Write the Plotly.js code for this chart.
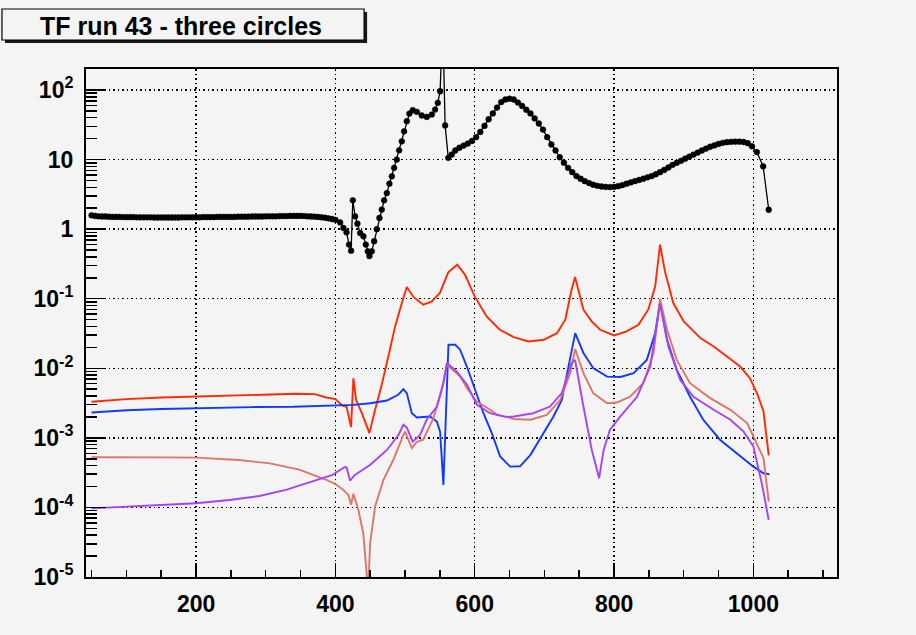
<!DOCTYPE html>
<html>
<head>
<meta charset="utf-8">
<script src="https://cdn.plot.ly/plotly-3.0.1.min.js"></script>
<style>
html,body{margin:0;padding:0;background:#f4f4f4;}
#chart{width:916px;height:635px;}
</style>
</head>
<body>
<div id="chart"></div>
<script>
// ---- data ----
const titleText = "TF run 43 - three circles";

const blackX = [50,55,60,65,70,75,80,85,90,95,100,105,110,115,120,125,130,135,140,145,150,155,160,165,170,175,180,185,190,195,200,205,210,215,220,225,230,235,240,245,250,255,260,265,270,275,280,285,290,295,300,305,310,315,320,325,330,335,340,345,350,355,360,365,370,375,380,385,390,395,400,
  406.8,411.5,416,419.6,422.5,425,428.3,431.6,435.5,440.2,443.6,446.5,448.8,452.2,455.6,459.4,463.2,466.6,469.9,473.8,477.5,481,484.3,488.1,491.5,495.3,498.6,502.5,506.2,511.1,516.9,524,531.2,538.4,543.1,547,550.3,554,557.5,
  562,567,572,578,584,590,596,602,608,614,620,626,632,638,644,650,656,662,668,674,680,686,692,698,704,710,716,722,728,734,740,746,752,758,764,770,776,782,788,794,800,806,812,818,824,830,836,842,848,854,860,866,872,878,884,890,896,902,908,914,920,926,932,938,944,950,956,962,968,974,980,986,992,998,1005,1014,1022];
const blackY = [1.58,1.55,1.53,1.52,1.52,1.51,1.5,1.5,1.5,1.49,1.49,1.49,1.49,1.48,1.48,1.48,1.48,1.48,1.47,1.47,1.47,1.47,1.47,1.47,1.47,1.47,1.48,1.48,1.48,1.48,1.48,1.48,1.49,1.49,1.49,1.49,1.5,1.5,1.5,1.5,1.5,1.5,1.51,1.51,1.51,1.51,1.52,1.52,1.52,1.52,1.53,1.53,1.53,1.53,1.54,1.54,1.54,1.55,1.55,1.55,1.55,1.54,1.53,1.52,1.51,1.5,1.48,1.46,1.43,1.4,1.36,
  1.25,1.04,0.90,0.60,0.49,2.6,1.53,1.2,0.88,0.79,0.60,0.48,0.41,0.48,0.67,1.0,1.45,1.91,2.6,3.3,4.5,5.75,7.6,10,13.6,18.3,25.5,35.6,45.9,51.2,48.5,43,41.1,44.4,52.4,65.5,96,1000,31,
  10.6,11.8,13.5,14.8,15.9,17,18.5,21,25,30.5,38,46,56,67,73,75,73,66,59,52,46,39,33,27,21,16.5,13.5,10.8,9,7.6,6.6,5.8,5.3,4.9,4.6,4.35,4.2,4.1,4.05,4.03,4.05,4.15,4.3,4.5,4.7,4.9,5.1,5.3,5.55,5.8,6.15,6.6,7.1,7.7,8.4,9.0,9.6,10.3,11,11.8,12.6,13.5,14.4,15.3,16,16.8,17.4,17.8,18.0,18.1,18.1,17.9,17.2,15.5,12.8,8.0,1.9];

const redX = [50,70,100,150,200,250,300,343,370,387,400,410,416,422.5,425.8,429.7,437.9,448.8,457,466,473.8,485.7,495.3,502.5,512,526,538,550,562,575,586,600,617,636,656,677,699,718,730,739,744,756,768,780,800,818,835,849,859,866,873,885,900,924,943,962,981,995,1006,1014.5,1022];
const redY = [3.3e-3,3.45e-3,3.6e-3,3.8e-3,3.93e-3,4.1e-3,4.25e-3,4.3e-3,4.25e-3,3.8e-3,3.6e-3,2.9e-3,2.8e-3,1.43e-3,7.2e-3,3.5e-3,2.26e-3,1.17e-3,2.53e-3,5.5e-3,0.0119,0.04,0.0867,0.147,0.106,0.082,0.091,0.121,0.239,0.308,0.221,0.108,0.0556,0.0358,0.0281,0.0243,0.0257,0.032,0.0499,0.135,0.205,0.0695,0.047,0.0358,0.0297,0.0339,0.0423,0.0695,0.15,0.6,0.247,0.0867,0.047,0.0272,0.0206,0.0148,0.0106,7.2e-3,4.2e-3,2.39e-3,5.6e-4];

const blueX = [50,100,150,200,281,340,396,426,450,474,490,497.6,502.5,509.7,517,536,545.6,550.3,555,562.3,572,579,588.7,600.6,612.5,624.5,636.5,650.8,665,680,698.6,713,725,734.5,744.2,756,770,790,809,828,847,859,866,876,890,909,928,952,976,1000,1014.5,1023];
const blueY = [2.31e-3,2.5e-3,2.6e-3,2.67e-3,2.77e-3,2.8e-3,2.88e-3,2.98e-3,3.15e-3,3.44e-3,4.16e-3,5.0e-3,4.4e-3,2.26e-3,1.96e-3,2.03e-3,1.72e-3,1.23e-3,2.1e-4,0.0218,0.0218,0.0185,0.0106,4.9e-3,2.26e-3,1.17e-3,5.4e-4,3.86e-4,3.9e-4,5.7e-4,1.17e-3,2.03e-3,3.5e-3,0.0106,0.032,0.0166,0.0101,7.6e-3,7.5e-3,8.5e-3,0.0132,0.032,0.09,0.0257,9.5e-3,3.9e-3,1.82e-3,9.4e-4,6.0e-4,3.86e-4,3.1e-4,3.0e-4];

const salmonX = [50,100,150,200,262,306,348,387,402,411,418.7,422.5,425.8,433,440,445,447,449.8,457,469,483,497.6,500,509.7,517,526,540.7,552.7,560,574,579,588.7,603,622,632,646,656,680,703.5,722.6,737,744.2,756,770,790,804,823,842,856.6,866,876,890,909,938,967,991,1005,1014.5,1022];
const salmonY = [5.27e-4,5.3e-4,5.25e-4,5.2e-4,4.8e-4,4.3e-4,3.5e-4,2.5e-4,2.1e-4,1.8e-4,1.51e-4,1.09e-4,1.57e-4,9.2e-5,4.26e-5,1.07e-5,6e-6,3.06e-5,1.03e-4,2.49e-4,4.8e-4,1.1e-3,1.23e-3,7.1e-4,8.8e-4,9.4e-4,1.92e-3,4.9e-3,0.0112,8.5e-3,7.6e-3,5.2e-3,3.33e-3,2.53e-3,2.14e-3,2.0e-3,1.87e-3,1.82e-3,2.14e-3,3.5e-3,8.5e-3,0.0189,8.5e-3,4.4e-3,3.15e-3,3.22e-3,3.9e-3,6.1e-3,0.0166,0.099,0.0358,0.0132,6.1e-3,3.73e-3,2.53e-3,1.63e-3,8.4e-4,5.1e-4,1.21e-4];

const purpleX = [50,100,162,200,248,291,329,367,396,413,416,421,428,450,474,490.5,497.6,502.5,511,521.6,531,545.6,555,560,574,589,603,622,646,656,684,708,725,739,744,756,768,778.6,785,794,809,833,852,866,878,895,914,943,967,986,1000,1012,1022];
const purpleY = [9.7e-5,1.02e-4,1.09e-4,1.15e-4,1.28e-4,1.46e-4,1.79e-4,2.35e-4,2.94e-4,3.78e-4,3.78e-4,2.43e-4,2.94e-4,4.1e-4,6.7e-4,1.1e-3,1.54e-3,1.4e-3,8.8e-4,1.1e-3,1.82e-3,2.8e-3,6.1e-3,0.0119,9.0e-3,5.8e-3,2.98e-3,2.26e-3,1.99e-3,2.03e-3,2.26e-3,2.82e-3,4.4e-3,0.0119,0.0132,2.82e-3,6.7e-4,2.63e-4,6.7e-4,1.3e-3,2.03e-3,3.9e-3,0.0106,0.085,0.0206,6.8e-3,3.9e-3,2.53e-3,1.82e-3,1.23e-3,7.5e-4,2.23e-4,6.6e-5];

const xTickVals = [200,400,600,800,1000];
const yTickVals = [1e-5,1e-4,1e-3,1e-2,1e-1,1,10,100];
const yTickText = ['10<sup>-5</sup>','10<sup>-4</sup>','10<sup>-3</sup>','10<sup>-2</sup>','10<sup>-1</sup>','1','10','10<sup>2</sup>'];

// ---- layout helpers ----
const yMinor = [];
for (let d = -5; d <= 2; d++) for (let k = 2; k <= 9; k++) yMinor.push(k * Math.pow(10, d));
const xMinor = [];
for (let v = 50; v <= 1100; v += 50) if (v % 200 !== 0) xMinor.push(v);

const BG = '#f4f4f4';
const FONT = 'Liberation Sans, Arial, Helvetica, sans-serif';

const traces = [
  {x: redX, y: redY, type: 'scatter', mode: 'lines', line: {color: '#ff2a00', width: 1.9}, showlegend: false},
  {x: blueX, y: blueY, type: 'scatter', mode: 'lines', line: {color: '#1238ff', width: 1.9}, showlegend: false},
  {x: salmonX, y: salmonY, type: 'scatter', mode: 'lines', line: {color: '#df7468', width: 1.9}, showlegend: false},
  {x: purpleX, y: purpleY, type: 'scatter', mode: 'lines', line: {color: '#a444f4', width: 1.9}, showlegend: false},
  {x: blackX, y: blackY, type: 'scatter', mode: 'lines+markers', line: {color: '#000000', width: 1.3},
   marker: {color: '#000000', size: 5.8, symbol: 'circle', opacity: 1, line: {color: '#000000', width: 0.5}}, showlegend: false}
];

// pixel -> paper conversions (plot area: x 86..836.7, y 69..577)
const PX = p => (p - 86) / 750.7;
const PY = q => (577 - q) / 508;

const layout = {
  width: 916, height: 635,
  paper_bgcolor: BG, plot_bgcolor: BG,
  margin: {l: 86, r: 79.3, t: 69, b: 58, pad: 0},
  font: {family: FONT, color: '#000'},
  title: {
    text: titleText,
    font: {family: FONT, size: 25, weight: 'bold', color: '#000'},
    xref: 'container', yref: 'container',
    x: 181 / 916, xanchor: 'center',
    y: 1 - 26 / 635, yanchor: 'middle'
  },
  xaxis: {
    type: 'linear', range: [42, 1120],
    tickmode: 'array', tickvals: xTickVals,
    ticks: 'inside', ticklen: 14, tickwidth: 1.5, tickcolor: '#000',
    minor: {tickmode: 'array', tickvals: xMinor, ticks: 'inside', ticklen: 7, tickwidth: 1.5, tickcolor: '#000', showgrid: false},
    showgrid: true, gridcolor: '#000', gridwidth: 1.5, griddash: '1.5px,3px',
    showline: true, mirror: true, linecolor: '#000', linewidth: 2,
    zeroline: false,
    tickfont: {family: FONT, size: 23, weight: 'bold', color: '#000'},
    ticklabelstandoff: 5
  },
  yaxis: {
    type: 'log', range: [-5, 2.302],
    tickmode: 'array', tickvals: yTickVals, ticktext: yTickText,
    ticks: 'inside', ticklen: 20, tickwidth: 1.5, tickcolor: '#000',
    minor: {tickmode: 'array', tickvals: yMinor, ticks: 'inside', ticklen: 11, tickwidth: 1.5, tickcolor: '#000', showgrid: false},
    showgrid: true, gridcolor: '#000', gridwidth: 1.5, griddash: '1.5px,3px',
    showline: true, mirror: true, linecolor: '#000', linewidth: 2,
    zeroline: false,
    tickfont: {family: FONT, size: 23, weight: 'bold', color: '#000'},
    ticklabelstandoff: 6
  },
  shapes: [
    {type: 'rect', xref: 'paper', yref: 'paper', layer: 'below',
     x0: PX(5), x1: PX(367), y0: PY(43), y1: PY(12),
     fillcolor: '#1a1a1a', line: {width: 0}},
    {type: 'rect', xref: 'paper', yref: 'paper', layer: 'below',
     x0: PX(2), x1: PX(364), y0: PY(40), y1: PY(9),
     fillcolor: BG, line: {color: '#000', width: 1.2}}
  ]
};

Plotly.newPlot('chart', traces, layout, {displayModeBar: false, staticPlot: true});
</script>
</body>
</html>
